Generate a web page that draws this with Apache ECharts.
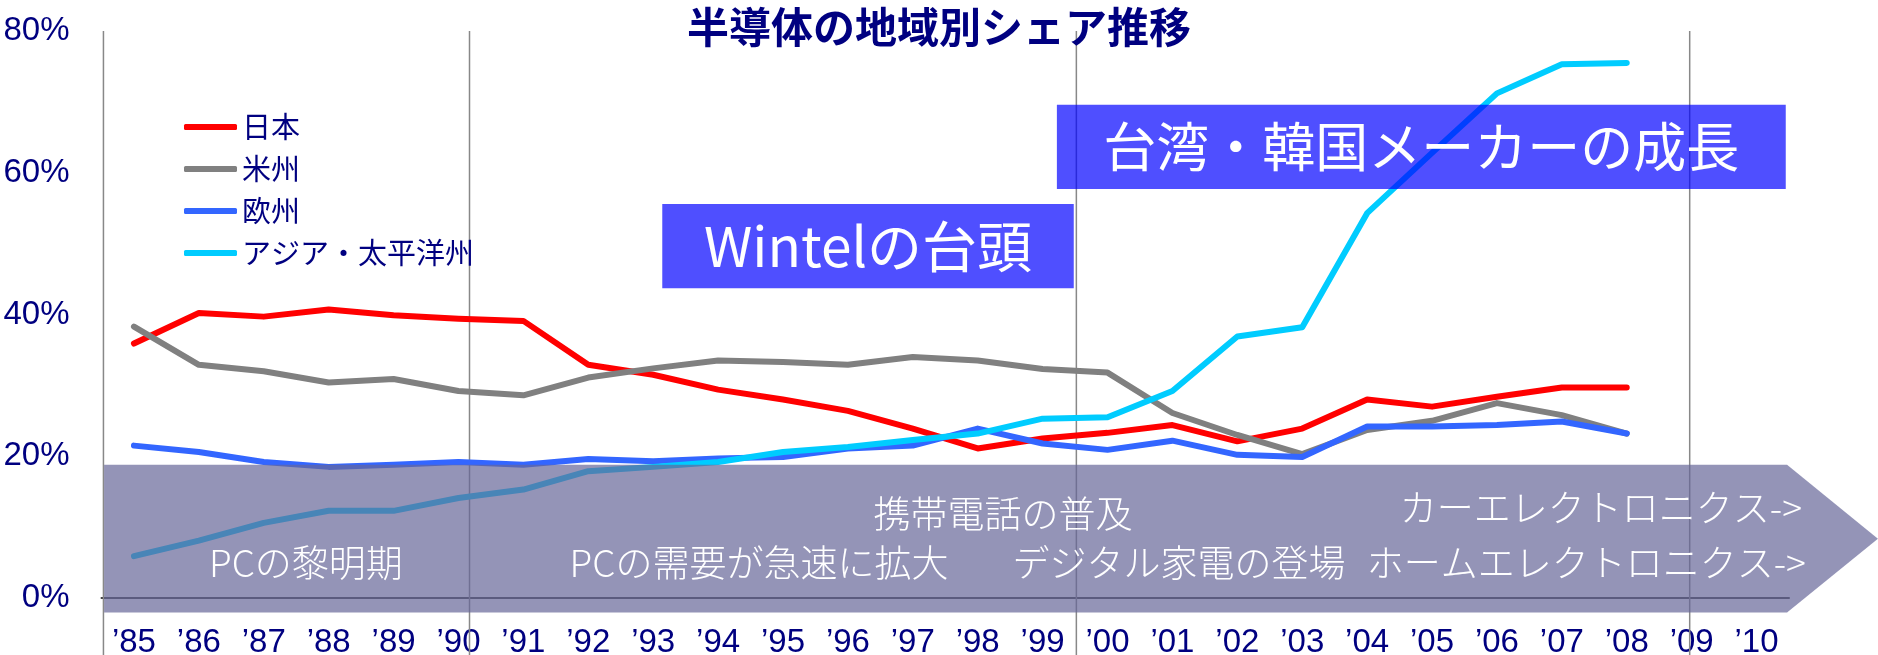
<!DOCTYPE html>
<html>
<head>
<meta charset="utf-8">
<title>半導体の地域別シェア推移</title>
<script src="https://cdn.jsdelivr.net/npm/echarts@6/dist/echarts.min.js"></script>
<style>
  html, body { margin: 0; padding: 0; background: #fff; }
  #chart { width: 1878px; height: 655px; }
</style>
</head>
<body>
<div id="chart"></div>
<script>
// 年（'85〜'10）
const years = ['’85', '’86', '’87', '’88', '’89', '’90', '’91', '’92', '’93', '’94', '’95', '’96', '’97',
  '’98', '’99', '’00', '’01', '’02', '’03', '’04', '’05', '’06', '’07', '’08', '’09', '’10'];

// 地域別シェア（%）'85〜'08
const japan    = [35.9, 40.2, 39.7, 40.7, 39.9, 39.4, 39.1, 32.9, 31.5, 29.4, 28.0, 26.4, 23.9, 21.1, 22.5, 23.3, 24.4, 22.1, 23.9, 28.0, 27.0, 28.4, 29.7, 29.7];
const americas = [38.3, 32.9, 32.0, 30.4, 30.9, 29.2, 28.6, 31.1, 32.4, 33.5, 33.3, 32.9, 34.0, 33.5, 32.3, 31.8, 26.1, 23.0, 20.3, 23.7, 25.0, 27.5, 25.8, 23.2];
const europe   = [21.5, 20.6, 19.2, 18.5, 18.8, 19.2, 18.8, 19.6, 19.3, 19.7, 19.9, 21.1, 21.5, 23.9, 21.8, 20.9, 22.2, 20.2, 19.9, 24.2, 24.2, 24.4, 24.9, 23.2];
const asia     = [5.9, 8.1, 10.6, 12.3, 12.3, 14.1, 15.3, 17.9, 18.5, 19.2, 20.6, 21.3, 22.3, 23.2, 25.3, 25.5, 29.2, 36.9, 38.2, 54.3, 62.8, 71.2, 75.3, 75.5];

const seriesNames = ['日本', '米州', '欧州', 'アジア・太平洋州'];
const seriesColors = ['#ff0000', '#808080', '#3366ff', '#00ccff'];

const navy = '#000080';
const jpFont = '"Noto Sans CJK JP", "Noto Sans", sans-serif';
const numFont = '"Liberation Sans Narrow", "Liberation Sans", sans-serif';

const chart = echarts.init(document.getElementById('chart'));

const lineSeries = [japan, americas, europe, asia].map((data, i) => ({
  name: seriesNames[i],
  type: 'line',
  data: data,
  symbol: 'none',
  z: 3,
  lineStyle: { width: 6, color: seriesColors[i], cap: 'round', join: 'round' },
  itemStyle: { color: seriesColors[i] },
  animation: false
}));

chart.setOption({
  animation: false,
  title: {
    text: '半導体の地域別シェア推移',
    left: 'center',
    top: 1,
    textStyle: { fontFamily: jpFont, fontSize: 42, fontWeight: 'bold', color: navy }
  },
  legend: {
    orient: 'vertical',
    left: 179,
    top: 107,
    icon: 'roundRect',
    itemWidth: 53,
    itemHeight: 6,
    itemGap: 12,
    textStyle: { fontFamily: jpFont, fontSize: 29, color: navy, lineHeight: 30, padding: [0, 0, 0, 0] },
    data: seriesNames
  },
  grid: { left: 101.5, right: 89, top: 31, bottom: 57, containLabel: false, outerBoundsMode: 'none' },
  xAxis: {
    type: 'category',
    data: years,
    boundaryGap: true,
    axisLine: { lineStyle: { color: '#404040', width: 2 } },
    axisTick: { show: false },
    axisLabel: { interval: 0, margin: 28, fontFamily: numFont, fontSize: 33, color: navy }
  },
  yAxis: {
    type: 'value',
    min: 0,
    max: 80,
    interval: 20,
    axisLine: { show: false },
    axisTick: { show: false },
    splitLine: { show: false },
    axisLabel: { margin: 32, fontFamily: numFont, fontSize: 33, color: navy, formatter: '{value}%' }
  },
  series: lineSeries
});

// 注記はグリッド座標（年インデックス, %）で置く
function pt(i, v) {
  const a = chart.convertToPixel({ gridIndex: 0 }, [0, v]);
  const b = chart.convertToPixel({ gridIndex: 0 }, [1, v]);
  return [a[0] + (b[0] - a[0]) * i, a[1]];
}

const dividers = [-0.47, 5.17, 14.52, 23.97];
const bandTop = 18.8, bandBottom = -2.05, bandLeft = -0.46, bandRight = 25.47, bandTip = 26.87;

const graphics = [];

dividers.forEach(i => {
  const p = pt(i, 80);
  graphics.push({
    type: 'line', z: 1, silent: true,
    shape: { x1: p[0], y1: p[1], x2: p[0], y2: 655 },
    style: { stroke: '#888888', lineWidth: 1.5 }
  });
});

// 下部の矢印帯
graphics.push({
  type: 'polygon', z: 10, silent: true,
  shape: {
    points: [
      pt(bandLeft, bandTop), pt(bandRight, bandTop),
      pt(bandTip, (bandTop + bandBottom) / 2),
      pt(bandRight, bandBottom), pt(bandLeft, bandBottom)
    ]
  },
  style: { fill: 'rgba(102,102,153,0.7)' }
});

const bandTexts = [
  { text: 'PCの黎明期', at: [2.65, 4.94], align: 'center' },
  { text: 'PCの需要が急速に拡大', at: [9.63, 4.94], align: 'center' },
  { text: '携帯電話の普及', at: [13.39, 11.9], align: 'center' },
  { text: 'デジタル家電の登場', at: [16.1, 4.94], align: 'center' },
  { text: 'カーエレクトロニクス->', at: [25.7, 12.7], align: 'right' },
  { text: 'ホームエレクトロニクス->', at: [25.76, 4.94], align: 'right' }
];
bandTexts.forEach(t => {
  const p = pt(t.at[0], t.at[1]);
  graphics.push({
    type: 'text', z: 11, silent: true, x: p[0], y: p[1],
    style: { text: t.text, fill: '#ffffff', font: '300 37px ' + jpFont, align: t.align, verticalAlign: 'middle' }
  });
});

// 見出しボックス
const boxes = [
  { text: 'Wintelの台頭', x: [8.14, 14.48], v: [55.6, 43.7], size: 55 },
  { text: '台湾・韓国メーカーの成長', x: [14.22, 25.45], v: [69.6, 57.7], size: 53 }
];
boxes.forEach(b => {
  const p0 = pt(b.x[0], b.v[0]);
  const p1 = pt(b.x[1], b.v[1]);
  graphics.push({
    type: 'rect', z: 10, silent: true,
    shape: { x: p0[0], y: p0[1], width: p1[0] - p0[0], height: p1[1] - p0[1] },
    style: { fill: 'rgba(0,0,255,0.69)' }
  });
  graphics.push({
    type: 'text', z: 11, silent: true, x: (p0[0] + p1[0]) / 2, y: (p0[1] + p1[1]) / 2,
    style: { text: b.text, fill: '#ffffff', font: b.size + 'px ' + jpFont, align: 'center', verticalAlign: 'middle' }
  });
});

chart.setOption({ graphic: graphics });
</script>
</body>
</html>
